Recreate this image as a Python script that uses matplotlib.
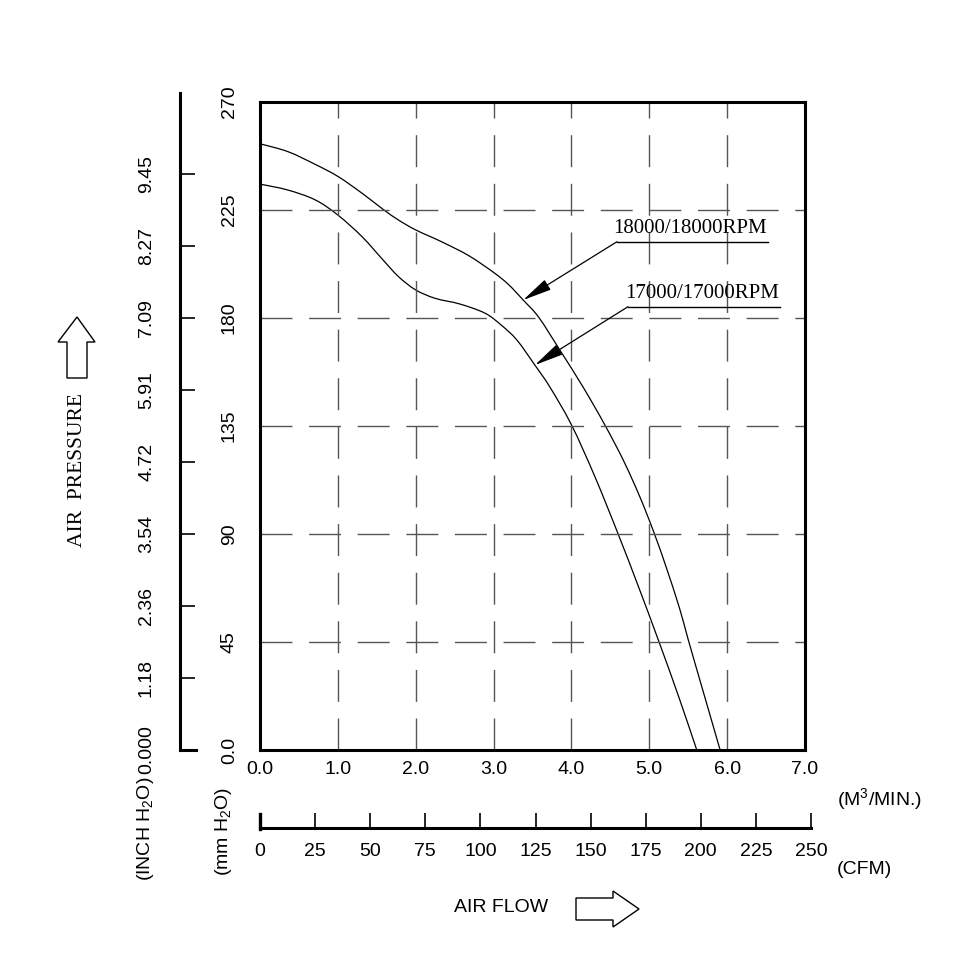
import matplotlib
matplotlib.use("Agg")
import matplotlib.pyplot as plt
from matplotlib.lines import Line2D
from matplotlib.patches import Polygon, PathPatch
from matplotlib.path import Path

plt.rcParams['font.family'] = ['Liberation Sans', 'DejaVu Sans']
plt.rcParams['mathtext.fontset'] = 'custom'
plt.rcParams['mathtext.rm'] = 'Liberation Sans'
plt.rcParams['mathtext.it'] = 'Liberation Sans'

# curve data: air flow (m3/min) vs pressure (mmH2O)
flow_18000 = [0.0, 0.36, 0.71, 1.0, 1.31, 1.58, 1.78, 2.0, 2.33, 2.68, 3.0, 3.19, 3.38,
              3.58, 3.85, 4.15, 4.43, 4.67, 4.88, 5.06, 5.22, 5.39, 5.50, 5.70, 5.91]
press_18000 = [252.6, 249.3, 244.0, 239.0, 232.0, 225.3, 220.8, 216.7, 211.8, 206.0, 199.0, 194.0, 187.5,
               180.3, 166.7, 151.2, 135.4, 120.5, 105.4, 90.6, 75.9, 58.9, 46.0, 23.5, 0.0]
flow_17000 = [0.0, 0.36, 0.71, 1.0, 1.31, 1.58, 1.78, 2.0, 2.25, 2.57, 2.89, 3.1, 3.3,
              3.53, 3.72, 4.0, 4.3, 4.6, 4.85, 5.12, 5.38, 5.61]
press_17000 = [235.8, 233.3, 229.2, 222.9, 213.9, 204.2, 197.2, 191.7, 188.2, 185.8, 182.0, 177.0, 170.8,
               160.4, 151.4, 135.5, 114.0, 90.0, 69.0, 45.5, 22.0, 0.0]

labels = ["18000/18000RPM", "17000/17000RPM"]
tip_index = [12, 13]  # where the leader arrows touch the curves

x_ticks = [0.0, 1.0, 2.0, 3.0, 4.0, 5.0, 6.0, 7.0]
mm_ticks = [0, 45, 90, 135, 180, 225, 270]
mm_labels = ["0.0", "45", "90", "135", "180", "225", "270"]
inch_labels = ["0.000", "1.18", "2.36", "3.54", "4.72", "5.91", "7.09", "8.27", "9.45"]
cfm_ticks = [0, 25, 50, 75, 100, 125, 150, 175, 200, 225, 250]

W = 960.0
def fx(px):
    return px / W
def fy(py):
    return 1 - py / W


# smooth path through the read points (catmull-rom as bezier segments)
def smooth_path(xs, ys):
    pts = list(zip(xs, ys))
    verts = [pts[0]]
    codes = [Path.MOVETO]
    n = len(pts)
    for i in range(n - 1):
        p0 = pts[i - 1] if i > 0 else pts[i]
        p1 = pts[i]
        p2 = pts[i + 1]
        p3 = pts[i + 2] if i + 2 < n else pts[i + 1]
        c1 = (p1[0] + (p2[0] - p0[0]) / 6, p1[1] + (p2[1] - p0[1]) / 6)
        c2 = (p2[0] - (p3[0] - p1[0]) / 6, p2[1] - (p3[1] - p1[1]) / 6)
        verts += [c1, c2, p2]
        codes += [Path.CURVE4] * 3
    return Path(verts, codes)


fig = plt.figure(figsize=(9.6, 9.6), dpi=100)

# main chart
ax = fig.add_axes([fx(260), fy(750), 545 / W, 648 / W])
ax.set_xlim(0, 7)
ax.set_ylim(0, 270)
for s in ax.spines.values():
    s.set_linewidth(2.2)
ax.set_xticks(x_ticks)
ax.set_xticklabels(["%.1f" % v for v in x_ticks])
ax.set_yticks(mm_ticks)
ax.set_yticklabels(mm_labels, rotation=90, va='center')
ax.tick_params(axis='both', length=0, labelsize=14)
ax.tick_params(axis='x', pad=8)
ax.tick_params(axis='y', pad=16)
ax.grid(True, color='#555555', lw=1.0, linestyle=(0, (23, 12)))

for xs, ys in [(flow_18000, press_18000), (flow_17000, press_17000)]:
    ax.add_patch(PathPatch(smooth_path(xs, ys), fill=False, edgecolor='black', lw=0.9))

# rpm labels with underline + leader arrow
text_pos = [(613, 233), (625, 298)]
line_pos = [(617, 768, 241.7), (628, 780, 306.7)]
curves = [(flow_18000, press_18000), (flow_17000, press_17000)]
for i in range(2):
    fig.text(fx(text_pos[i][0]), fy(text_pos[i][1]), labels[i], family='Liberation Serif',
             fontsize=15, va='baseline', ha='left')
    x0, x1, yy = line_pos[i]
    fig.add_artist(Line2D([fx(x0), fx(x1)], [fy(yy), fy(yy)], lw=1.0, color='black',
                          transform=fig.transFigure))
    cx, cy = curves[i]
    k = tip_index[i]
    ax.annotate('', xy=(cx[k], cy[k]), xycoords='data',
                xytext=(fx(x0), fy(yy)), textcoords='figure fraction',
                arrowprops=dict(arrowstyle='-|>,head_length=0.9,head_width=0.18',
                                mutation_scale=20, lw=0.9, color='black',
                                shrinkA=0, shrinkB=0))

# inch H2O scale on the far left
iax = fig.add_axes([fx(180), fy(750), 0.0001, 657 / W])
iax.set_ylim(0, 273.75 / 25.4)
iax.set_xticks([])
for k in ['right', 'top', 'bottom']:
    iax.spines[k].set_visible(False)
iax.spines['left'].set_linewidth(2.2)
iax.set_yticks([float(v) for v in inch_labels])
iax.set_yticklabels(inch_labels, rotation=90, va='center')
iax.tick_params(axis='y', direction='in', length=11, width=1.2, labelsize=14, pad=18)
fig.add_artist(Line2D([fx(180), fx(196)], [fy(750), fy(750)], lw=2.2, color='black',
                      transform=fig.transFigure))

# CFM scale under the chart
cax = fig.add_axes([fx(260), fy(828), 551 / W, 0.0001])
cax.set_xlim(0, 250)
cax.set_yticks([])
for k in ['left', 'right', 'top']:
    cax.spines[k].set_visible(False)
cax.spines['bottom'].set_linewidth(2.2)
cax.set_xticks(cfm_ticks)
cax.set_xticklabels([str(v) for v in cfm_ticks])
cax.tick_params(axis='x', direction='in', length=11, width=1.2, labelsize=14, pad=11)
fig.add_artist(Line2D([fx(260), fx(260)], [fy(829), fy(814)], lw=2.4, color='black',
                      transform=fig.transFigure))

# axis titles
fig.text(fx(78), fy(470), "AIR  PRESSURE", family='Liberation Serif', fontsize=15.5,
         rotation=90, ha='center', va='center')
fig.text(fx(145), fy(829), "(INCH H$_2$O)", fontsize=14, rotation=90, ha='center', va='center')
fig.text(fx(224), fy(831), "(mm H$_2$O)", fontsize=14, rotation=90, ha='center', va='center')
fig.text(fx(837), fy(799), "(M$^3$/MIN.)", fontsize=14, ha='left', va='center')
fig.text(fx(837), fy(869), "(CFM)", fontsize=14, ha='left', va='center')
fig.text(fx(501), fy(908), "AIR FLOW", fontsize=14, ha='center', va='center')

# outline arrows
up = [(77, 317), (95, 342), (87, 342), (87, 378), (67, 378), (67, 342), (58, 342)]
right = [(576, 898), (613, 898), (613, 891), (639, 909), (613, 927), (613, 920), (576, 920)]
for pts in (up, right):
    fig.add_artist(Polygon([(fx(a), fy(b)) for a, b in pts], closed=True, fill=False,
                           edgecolor='black', lw=1.0, transform=fig.transFigure))

fig.savefig("out.png", dpi=100)
